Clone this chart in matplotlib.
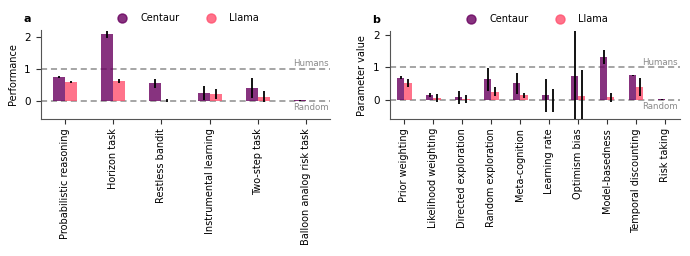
import matplotlib
matplotlib.use("Agg")
import matplotlib.pyplot as plt
from matplotlib.lines import Line2D
import numpy as np

plt.rcParams['font.family'] = ['DejaVu Sans']

tasks = ["Probabilistic reasoning", "Horizon task", "Restless bandit",
         "Instrumental learning", "Two-step task", "Balloon analog risk task"]
task_centaur = [0.76, 2.08, 0.55, 0.25, 0.41, 0.02]
task_centaur_err = [0.03, 0.10, 0.13, 0.23, 0.32, 0.01]
task_llama = [0.60, 0.62, 0.01, 0.23, 0.14, 0.01]
task_llama_err = [0.04, 0.07, 0.04, 0.15, 0.17, 0.005]

params = ["Prior weighting", "Likelihood weighting", "Directed exploration",
          "Random exploration", "Meta-cognition", "Learning rate",
          "Optimism bias", "Model-basedness", "Temporal discounting", "Risk taking"]
par_centaur = [0.68, 0.15, 0.08, 0.63, 0.51, 0.15, 0.73, 1.32, 0.75, 0.02]
par_centaur_err = [0.05, 0.05, 0.20, 0.35, 0.32, 0.50, 1.45, 0.22, 0.01, 0.005]
par_llama = [0.52, 0.07, 0.03, 0.26, 0.14, 0.00, 0.12, 0.08, 0.39, 0.01]
par_llama_err = [0.13, 0.12, 0.12, 0.14, 0.09, 0.35, 0.80, 0.13, 0.27, 0.005]

C_COL = '#69005f'
L_COL = '#ff506e'
ALPHA = 0.8

fig = plt.figure(figsize=(6.9, 2.56), dpi=100)
ax1 = fig.add_axes([0.0594, 0.535, 0.419, 0.348])
ax2 = fig.add_axes([0.565, 0.535, 0.420, 0.343])

def draw(ax, labels, cv, ce, lv, le, ylabel, ylim, panel):
    x = np.arange(len(labels))
    w = 0.25
    ax.bar(x - w/2, cv, w, color=C_COL, alpha=ALPHA, zorder=2)
    ax.bar(x + w/2, lv, w, color=L_COL, alpha=ALPHA, zorder=2)
    ax.errorbar(x - w/2, cv, yerr=ce, fmt='none', ecolor='black', elinewidth=1.3, zorder=3)
    ax.errorbar(x + w/2, lv, yerr=le, fmt='none', ecolor='black', elinewidth=1.3, zorder=3)
    ax.axhline(1, color='grey', ls=(0, (4, 2.5)), lw=1.1, alpha=0.9, zorder=1)
    ax.axhline(0, color='grey', ls=(0, (4, 2.5)), lw=1.1, alpha=0.9, zorder=1)
    ax.set_xlim(-0.5, len(labels) - 0.5)
    ax.set_ylim(*ylim)
    ax.set_xticks(x)
    ax.set_xticklabels(labels, rotation=90, fontsize=7)
    ax.set_yticks([0, 1, 2])
    ax.tick_params(axis='y', labelsize=7.5, length=3.5, width=0.8, color='#333333', pad=4)
    ax.tick_params(axis='x', length=3.5, width=0.8, color='#333333', pad=3)
    ax.set_ylabel(ylabel, fontsize=7, labelpad=4)
    for s in ['top', 'right']:
        ax.spines[s].set_visible(False)
    for s in ['left', 'bottom']:
        ax.spines[s].set_color('#555555')
        ax.spines[s].set_linewidth(0.8)
    ax.text(0.995, 1.02, 'Humans', transform=ax.get_yaxis_transform(), ha='right',
            va='bottom', fontsize=6.2, color='#8a8a8a')
    ax.text(0.995, -0.05, 'Random', transform=ax.get_yaxis_transform(), ha='right',
            va='top', fontsize=6.2, color='#8a8a8a')
    handles = [Line2D([], [], marker='o', ls='none', color=C_COL, alpha=ALPHA, markersize=6.5),
               Line2D([], [], marker='o', ls='none', color=L_COL, alpha=ALPHA, markersize=6.5)]
    ax.legend(handles, ['Centaur', 'Llama'], loc='lower center', bbox_to_anchor=(0.5, 1.0),
              ncol=2, frameon=False, fontsize=7, handletextpad=0.9, columnspacing=2.2,
              borderaxespad=0.3)
    ax.text(-0.035, 1.07, panel, transform=ax.transAxes, fontsize=8, fontweight='bold',
            ha='right', va='bottom')

draw(ax1, tasks, task_centaur, task_centaur_err, task_llama, task_llama_err,
     'Performance', (-0.56, 2.22), 'a')
draw(ax2, params, par_centaur, par_centaur_err, par_llama, par_llama_err,
     'Parameter value', (-0.58, 2.1), 'b')

fig.savefig('out.png', dpi=100)
